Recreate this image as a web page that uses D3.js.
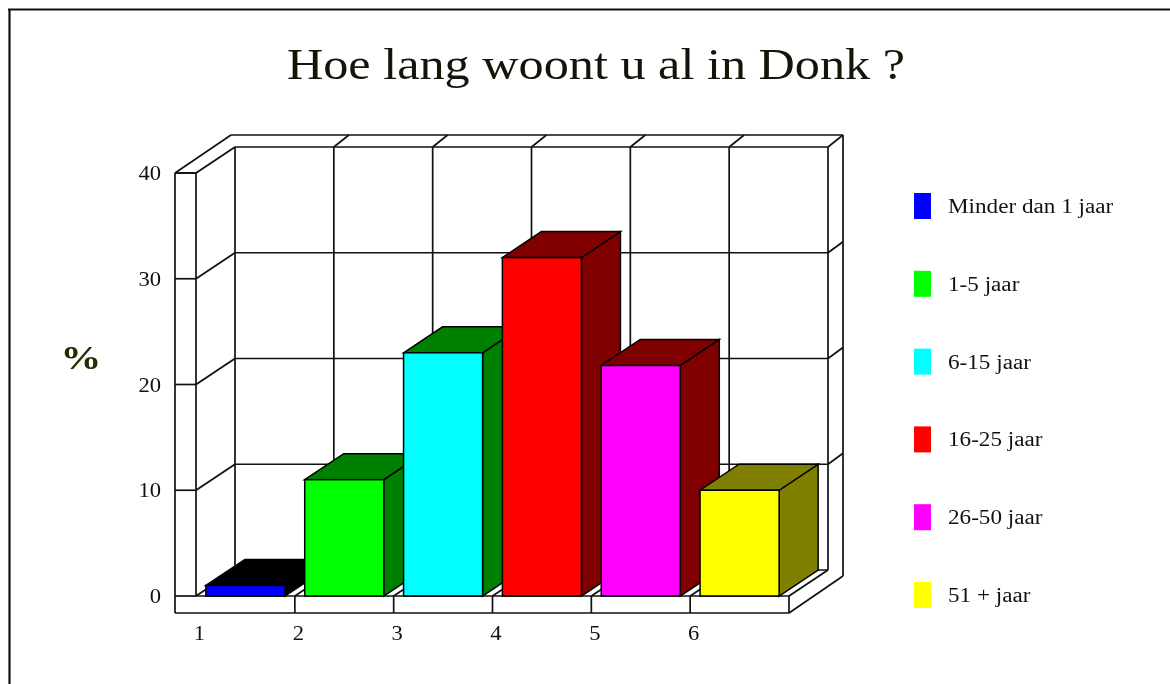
<!DOCTYPE html>
<html><head><meta charset="utf-8">
<script src="https://cdn.jsdelivr.net/npm/d3@7"></script>
<style>html,body{margin:0;padding:0;background:#fff;overflow:hidden}svg{display:block;filter:blur(0.35px)}text{font-family:"Liberation Serif",serif;fill:#000}</style>
</head><body><svg id="c" width="1170" height="684"></svg>
<script>
const title = "Hoe lang woont u al in Donk ?";
const yLabel = "%";
const categories = ["1","2","3","4","5","6"];
const seriesNames = ["Minder dan 1 jaar","1-5 jaar","6-15 jaar","16-25 jaar","26-50 jaar","51 + jaar"];
const values = [1,11,23,32,21.8,10];
const faceColors = ["#0000ff","#00ff00","#00ffff","#ff0000","#ff00ff","#ffff00"];
const shadeColors = ["#000000","#008000","#008000","#800000","#800000","#808000"];
const yTicks = [0,10,20,30,40];

const svg = d3.select("#c");
const x = d3.scaleBand().domain(categories).range([196,789]).paddingInner(0.2).paddingOuter(0.1);
const xEdge = d3.scaleLinear().domain([0,6]).range([196,789]);
const y = d3.scaleLinear().domain([0,40]).range([596,173]);
const dx = 39, dy = -26;
const lw = 1.7;
const ln = (g,x1,y1,x2,y2,w=lw) => g.append("line").attr("x1",x1).attr("y1",y1).attr("x2",x2).attr("y2",y2).attr("stroke","#111").attr("stroke-width",w);
const poly = (g,pts,fill) => g.append("polygon").attr("points",pts.map(p=>p.join(",")).join(" ")).attr("fill",fill).attr("stroke","#000").attr("stroke-width",1.5);
// the reference's type is stretched horizontally, so text is drawn with a horizontal scale
const label = (g,tx,ty,str,size,sx,anchor="start") => g.append("text")
  .attr("transform",`translate(${tx},${ty}) scale(${sx},1)`)
  .attr("text-anchor",anchor).attr("font-size",size).text(str);

// page frame
const frame = svg.append("g");
ln(frame,8,9.5,1170,9.5,2.2); ln(frame,9.5,9,9.5,684,2.2);

label(svg,596,79,title,44,1.142,"middle").style("fill","#141408");
label(svg,81,369,yLabel,34,1.2,"middle").attr("font-weight","bold").style("fill","#2a2a00");

const g = svg.append("g");
const left = 175, right = xEdge(6), base = 613, y0 = y(0), yT = y(40);
const outerDx = 54, outerDy = -38;
ln(g,left,yT,left,base);
ln(g,left,base,right,base);
ln(g,right,y0,right,base);
ln(g,left,yT,xEdge(0),yT);
ln(g,left,yT,left+outerDx+2,yT+outerDy);
ln(g,left+outerDx+2,yT+outerDy,right+outerDx,yT+outerDy);
ln(g,right+outerDx,yT+outerDy,right+outerDx,base-37);
ln(g,right,base,right+outerDx,base-37);

ln(g,xEdge(0),yT,xEdge(0),y0);
ln(g,xEdge(0),y0,right,y0);
ln(g,xEdge(0)+dx,yT+dy,xEdge(0)+dx,y0+dy);
ln(g,xEdge(6)+dx,yT+dy,xEdge(6)+dx,y0+dy);
ln(g,right,y0,right+dx,y0+dy);
ln(g,xEdge(0),y0,xEdge(0)+dx,y0+dy);
ln(g,xEdge(0)+dx,y0+dy,right+dx,y0+dy);
ln(g,xEdge(0),yT,xEdge(0)+dx,yT+dy);
ln(g,xEdge(0)+dx,yT+dy,right+dx,yT+dy);
ln(g,right+dx,yT+dy,right+outerDx,yT+outerDy);

yTicks.forEach(t=>{
  if(t>0 && t<40){
    ln(g,xEdge(0),y(t),xEdge(0)+dx,y(t)+dy);
    ln(g,xEdge(0)+dx,y(t)+dy,right+dx,y(t)+dy);
    ln(g,right+dx,y(t)+dy,right+outerDx,y(t)+dy-11);
  }
  ln(g,left,y(t),xEdge(0),y(t));
  label(g,161,y(t)+7,t,20,1.13,"end").style("fill","#111");
});
d3.range(1,6).forEach(i=>{
  const px = xEdge(i);
  ln(g,px,y0,px+dx,y0+dy);
  ln(g,px+dx,yT+dy,px+dx,y0+dy);
  ln(g,px+dx,yT+dy,px+dx+15,yT+outerDy);
  ln(g,px,y0,px,base);
});
categories.forEach((c,i)=>{
  label(g,xEdge(i)+3.5,640,c,20,1.13,"middle").style("fill","#111");
});

categories.forEach((c,i)=>{
  const a = x(c), b = a + x.bandwidth(), t = y(values[i]), s = shadeColors[i];
  const bar = svg.append("g");
  poly(bar,[[b,t],[b+dx,t+dy],[b+dx,y0+dy],[b,y0]],s);
  poly(bar,[[a,t],[a+dx,t+dy],[b+dx,t+dy],[b,t]],s);
  bar.append("rect").attr("x",a).attr("y",t).attr("width",x.bandwidth()).attr("height",y0-t).attr("fill",faceColors[i]).attr("stroke","#000").attr("stroke-width",1.5);
});

const legendY = d3.scalePoint().domain(seriesNames).range([206,595]);
seriesNames.forEach((n,i)=>{
  const cy = legendY(n);
  svg.append("rect").attr("x",914).attr("y",cy-13).attr("width",17).attr("height",26).attr("fill",faceColors[i]);
  label(svg,948,cy+7,n,20.5,1.13).style("fill","#111");
});
</script></body></html>
